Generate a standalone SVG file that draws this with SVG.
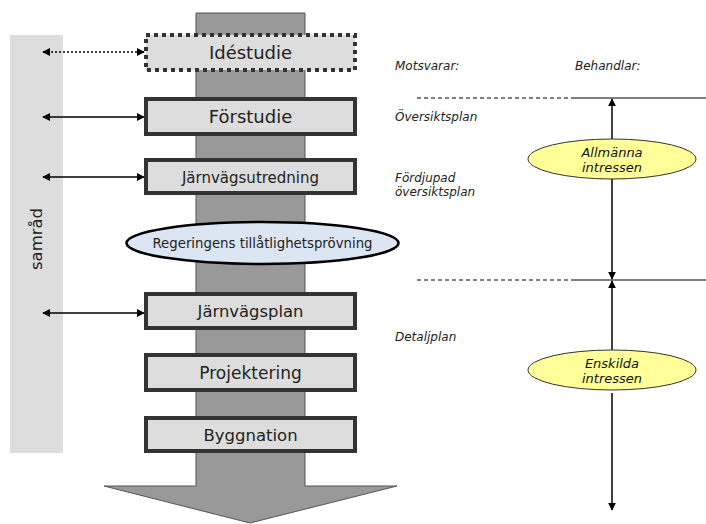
<svg xmlns="http://www.w3.org/2000/svg" width="706" height="524" viewBox="0 0 706 524">
  <style>
    .box { fill: #dddddd; stroke: #333333; stroke-width: 4; }
    .dotted { stroke-dasharray: 4 4; }
    .lbl { font-family: "DejaVu Sans", Verdana, sans-serif; fill: #222222; text-anchor: middle; }
    .note { font-family: "DejaVu Sans", Verdana, sans-serif; font-style: italic; font-size: 12px; fill: #222222; }
    .oval { font-family: "DejaVu Sans", Verdana, sans-serif; font-style: italic; font-size: 13px; fill: #111111; text-anchor: middle; }
    .conn { stroke: #000000; stroke-width: 1.5; fill: none; }
    .dash { stroke: #000000; stroke-width: 1; stroke-dasharray: 4 3; }
    .rule { stroke: #000000; stroke-width: 1.2; }
    .yel { fill: #ffff99; stroke: #333333; stroke-width: 1; }
  </style>
  <defs>
    <marker id="ah" viewBox="0 0 10 10" refX="9" refY="5" markerWidth="8" markerHeight="8" markerUnits="userSpaceOnUse" orient="auto-start-reverse">
      <path d="M0,0 L10,5 L0,10 Z" fill="#000000"/>
    </marker>
  </defs>

  <!-- samråd band -->
  <g id="samrad">
    <rect x="10" y="35" width="53" height="418" fill="#dddddd"/>
    <text class="lbl" font-size="16.5" transform="translate(42,239) rotate(-90)">samråd</text>
  </g>

  <!-- process shaft with downward arrow -->
  <g id="shaft">
    <polygon points="196,13 305,13 305,486 397,486 250,523 104,486 196,486" fill="#999999" stroke="#555555" stroke-width="1"/>
  </g>

  <!-- connectors -->
  <g id="connectors">
    <line class="conn" x1="43" y1="52" x2="144" y2="52" stroke-width="2" stroke-dasharray="2 2" marker-start="url(#ah)" marker-end="url(#ah)"/>
    <line class="conn" x1="43" y1="117" x2="144" y2="117" marker-start="url(#ah)" marker-end="url(#ah)"/>
    <line class="conn" x1="43" y1="177" x2="144" y2="177" marker-start="url(#ah)" marker-end="url(#ah)"/>
    <line class="conn" x1="43" y1="313" x2="144" y2="313" marker-start="url(#ah)" marker-end="url(#ah)"/>

    <line class="dash" x1="417" y1="98" x2="573" y2="98"/>
    <line class="rule" x1="573" y1="98" x2="706" y2="98"/>
    <line class="dash" x1="417" y1="280" x2="573" y2="280"/>
    <line class="rule" x1="573" y1="280" x2="706" y2="280"/>

    <line class="conn" x1="612" y1="99" x2="612" y2="279" marker-start="url(#ah)" marker-end="url(#ah)"/>
    <line class="conn" x1="612" y1="281" x2="612" y2="350" marker-start="url(#ah)"/>
    <line class="conn" x1="612" y1="393" x2="612" y2="510" marker-end="url(#ah)"/>
  </g>

  <!-- phases -->
  <g id="idestudie">
    <rect class="box dotted" x="146" y="35" width="209" height="35"/>
    <text class="lbl" x="250.5" y="58.5" font-size="18">Idéstudie</text>
  </g>
  <g id="forstudie">
    <rect class="box" x="146" y="99" width="209" height="35"/>
    <text class="lbl" x="250.5" y="123" font-size="18">Förstudie</text>
  </g>
  <g id="jarnvagsutredning">
    <rect class="box" x="146" y="160" width="209" height="33"/>
    <text class="lbl" x="250.5" y="182.5" font-size="15">Järnvägsutredning</text>
  </g>
  <g id="tillatlighetsprovning">
    <ellipse cx="262.5" cy="243" rx="136" ry="21" fill="#dce6f2" stroke="#000000" stroke-width="2.5"/>
    <text class="lbl" x="262.5" y="247.5" font-size="13.3">Regeringens tillåtlighetsprövning</text>
  </g>
  <g id="jarnvagsplan">
    <rect class="box" x="146" y="294" width="209" height="34"/>
    <text class="lbl" x="250.5" y="317" font-size="16.4">Järnvägsplan</text>
  </g>
  <g id="projektering">
    <rect class="box" x="146" y="355" width="209" height="35"/>
    <text class="lbl" x="250.5" y="379" font-size="17">Projektering</text>
  </g>
  <g id="byggnation">
    <rect class="box" x="146" y="418" width="209" height="33"/>
    <text class="lbl" x="250.5" y="441" font-size="16.5">Byggnation</text>
  </g>

  <!-- plan correspondence notes -->
  <g id="notes">
    <text class="note" x="395" y="70">Motsvarar:</text>
    <text class="note" x="575" y="70">Behandlar:</text>
    <text class="note" x="395" y="121">Översiktsplan</text>
    <text class="note" x="395" y="182">Fördjupad</text>
    <text class="note" x="395" y="196">översiktsplan</text>
    <text class="note" x="395" y="341">Detaljplan</text>
  </g>

  <g id="allmanna">
    <ellipse class="yel" cx="612" cy="159" rx="84" ry="20"/>
    <text class="oval" x="612" y="157">Allmänna</text>
    <text class="oval" x="612" y="172">intressen</text>
  </g>
  <g id="enskilda">
    <ellipse class="yel" cx="612" cy="370" rx="84" ry="20"/>
    <text class="oval" x="612" y="368">Enskilda</text>
    <text class="oval" x="612" y="383">intressen</text>
  </g>
</svg>
